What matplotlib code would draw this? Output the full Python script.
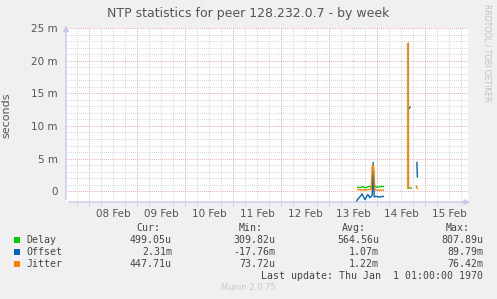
import numpy as np
import matplotlib.pyplot as plt
from matplotlib.ticker import FixedLocator

nan = np.nan

# time in days of February (8.0 = 08 Feb 00:00), values in milliseconds
delay_t = [13.60, 13.65, 13.70, 13.75, 13.80, 13.85, 13.90, 13.95, 14.00, 14.05, 14.10, 14.13, nan, 14.64, 14.71]
delay_v = [0.62, 0.55, 0.72, 0.50, 0.66, 0.74, 0.58, 0.80, 0.60, 0.68, 0.76, 0.70, nan, 0.50, 0.50]

offset_t = [13.56, 13.60, 13.65, 13.69, 13.72, 13.75, 13.78, 13.81, 13.85, 13.90, 13.92, 13.94,
            13.96, 14.00, 14.05, 14.10, 14.13, nan, 14.66, 14.69, nan, 14.83, 14.84]
offset_v = [-1.76, -1.2, -0.8, -0.4, -0.9, -1.3, -0.8, -0.5, -1.0, -0.6, 4.4, -0.9,
            -0.8, -0.8, -0.9, -0.8, -0.8, nan, 12.6, 12.9, nan, 4.4, 2.2]

jitter_t = [13.60, 13.70, 13.80, 13.88, 13.90, 13.92, 13.93, 13.95, 13.97, 14.05, 14.13, nan,
            14.645, 14.65, 14.655, nan, 14.82, 14.84]
jitter_v = [0.25, 0.20, 0.22, 0.30, 3.8, 4.0, 3.5, 0.4, 0.2, 0.15, 0.20, nan,
            0.5, 22.7, 0.5, nan, 0.8, 0.4]

day_labels = ["08 Feb", "09 Feb", "10 Feb", "11 Feb", "12 Feb", "13 Feb", "14 Feb", "15 Feb"]
day_pos = [8, 9, 10, 11, 12, 13, 14, 15]
y_ticks = [0, 5, 10, 15, 20, 25]
y_labels = ["0", "5 m", "10 m", "15 m", "20 m", "25 m"]

names = ["Delay", "Offset", "Jitter"]
colors = ["#00CC00", "#0066B3", "#FF8000"]
cur = ["499.05u", "2.31m", "447.71u"]
mins = ["309.82u", "-17.76m", "73.72u"]
avgs = ["564.56u", "1.07m", "1.22m"]
maxs = ["807.89u", "89.79m", "76.42m"]

W, H = 497, 299
fig = plt.figure(figsize=(W / 100, H / 100), dpi=100, facecolor="#F0F0F0")
ax = fig.add_axes([66 / W, 1 - 202 / H, (468 - 66) / W, (202 - 28) / H])
ax.set_facecolor("white")

ax.set_xlim(7.52, 15.895)
ax.set_ylim(-1.65, 25)

# grids: 1m / 6h minor grey, 5m / 1 day major red
for y in np.arange(0, 26, 1):
    major = y % 5 == 0
    ax.axhline(y, color="#E09090" if major else "#C8C8C8", lw=0.6, ls=(0, (1, 1.5)), zorder=1)
for d in np.arange(7.75, 15.9, 0.25):
    major = abs(d - round(d)) < 1e-6
    ax.axvline(d, color="#E09090" if major else "#C8C8C8", lw=0.6, ls=(0, (1, 1.5)), zorder=1)

ax.plot(delay_t, delay_v, color=colors[0], lw=1, zorder=3)
ax.plot(offset_t, offset_v, color=colors[1], lw=1, zorder=3)
ax.plot(jitter_t, jitter_v, color=colors[2], lw=1, zorder=4)

for s in ax.spines.values():
    s.set_visible(False)

ax.xaxis.set_major_locator(FixedLocator([d + 0.5 for d in day_pos]))
ax.set_xticklabels(day_labels)
ax.tick_params(axis="x", length=0, labelsize=7.5, labelcolor="#555555", pad=5)
ax.xaxis.set_minor_locator(FixedLocator(list(np.arange(7.75, 15.9, 0.25))))
ax.tick_params(axis="x", which="minor", length=3, color="#D0D0D0", width=0.6)

ax.set_yticks(y_ticks)
ax.set_yticklabels(y_labels)
ax.tick_params(axis="y", length=0, labelsize=7.5, labelcolor="#555555", pad=6)
ax.set_ylabel("seconds", fontsize=8, color="#555555", labelpad=14)

# axis arrows
ax.annotate("", xy=(1.012, 0), xytext=(0, 0), xycoords="axes fraction",
            arrowprops=dict(arrowstyle="-|>", color="#C8C8F0", lw=1, mutation_scale=8), annotation_clip=False)
ax.annotate("", xy=(0, 1.03), xytext=(0, 0), xycoords="axes fraction",
            arrowprops=dict(arrowstyle="-|>", color="#C8C8F0", lw=1, mutation_scale=8), annotation_clip=False)

fig.text(248 / W, 1 - 14 / H, "NTP statistics for peer 128.232.0.7 - by week", ha="center", va="center",
         fontsize=9, color="#555555")
fig.text(487 / W, 1 - 53 / H, "RRDTOOL / TOBI OETIKER", rotation=270, ha="center", va="center",
         fontsize=5.5, color="#C0C0C0")

mono = "DejaVu Sans Mono"
fs = 7.1
tc = "#444444"
hy = 1 - 228 / H
for label, xr in [("Cur:", 160), ("Min:", 263), ("Avg:", 366), ("Max:", 470)]:
    fig.text(xr / W, hy, label, ha="right", va="center", family=mono, fontsize=fs, color=tc)
for i, name in enumerate(names):
    ry = 1 - (240 + 12 * i) / H
    fig.patches.append(plt.Rectangle((14 / W, ry - 3 / H), 6 / W, 6 / H, transform=fig.transFigure,
                                     facecolor=colors[i], edgecolor="none"))
    fig.text(26 / W, ry, name, ha="left", va="center", family=mono, fontsize=fs, color=tc)
    for val, xr in [(cur[i], 172), (mins[i], 275), (avgs[i], 379), (maxs[i], 483)]:
        fig.text(xr / W, ry, val, ha="right", va="center", family=mono, fontsize=fs, color=tc)
fig.text(483 / W, 1 - 276 / H, "Last update: Thu Jan  1 01:00:00 1970", ha="right", va="center",
         family=mono, fontsize=fs, color=tc)
fig.text(248 / W, 1 - 288 / H, "Munin 2.0.75", ha="center", va="center", fontsize=6, color="#C8C8C8")

fig.savefig("out.png", dpi=100, facecolor=fig.get_facecolor())
